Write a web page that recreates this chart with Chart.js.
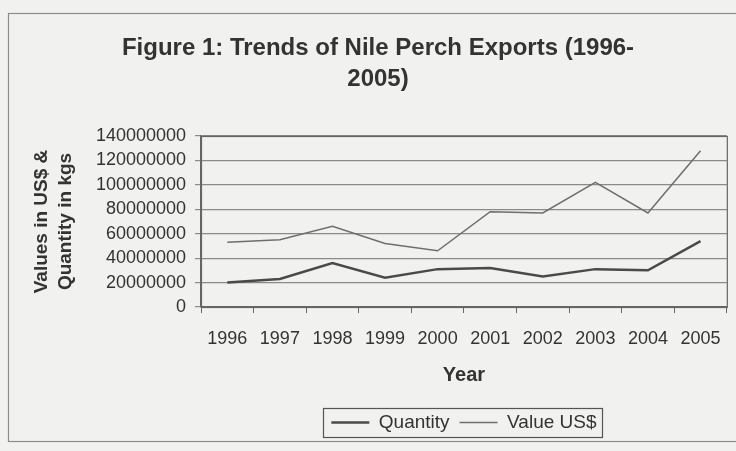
<!DOCTYPE html>
<html>
<head>
<meta charset="utf-8">
<title>Nile Perch Exports 1996-2005</title>
<script src="https://cdn.jsdelivr.net/npm/chart.js@4"></script>
<style>
  html, body { margin: 0; padding: 0; background: #f1f1ef; overflow: hidden; }
  #wrap { position: relative; width: 736px; height: 451px; }
</style>
</head>
<body>
<div id="wrap"><canvas id="exports" width="736" height="451"></canvas></div>
<script>
// ---- data ----
const years = ['1996', '1997', '1998', '1999', '2000', '2001', '2002', '2003', '2004', '2005'];
const quantityKg = [20000000, 23000000, 36000000, 24000000, 31000000, 32000000, 25000000, 31000000, 30000000, 54000000];
const valueUsd = [53000000, 55000000, 66000000, 52000000, 46000000, 78000000, 77000000, 102000000, 77000000, 128000000];

const INK = '#333333';
const FONT = '"Liberation Sans", Arial, Helvetica, sans-serif';

// frame round the whole chart, border of the plot area, box round the legend
const framePlugin = {
  id: 'frames',
  afterLayout(chart) {
    // centre the legend under the plot area
    const lg = chart.legend;
    lg.left = chart.chartArea.left;
    lg.right = chart.chartArea.right;
    lg.width = lg.right - lg.left;
  },
  beforeDraw(chart) {
    const c = chart.ctx;
    c.save();
    c.strokeStyle = '#8c8c8c';
    c.lineWidth = 1.2;
    c.strokeRect(8.5, 13.5, 760, 428);
    c.restore();
  },
  afterDraw(chart) {
    const c = chart.ctx;
    const a = chart.chartArea;
    c.save();
    c.strokeStyle = '#666';
    c.lineWidth = 1.2;
    c.strokeRect(a.left + 0.5, a.top + 0.5, a.right - a.left, a.bottom - a.top);
    const boxes = chart.legend.legendHitBoxes;
    if (boxes && boxes.length) {
      const l = Math.min(...boxes.map(b => b.left)) - 8;
      const r = Math.max(...boxes.map(b => b.left + b.width)) + 6;
      const t = boxes[0].top - 5;
      const h = boxes[0].height + 10;
      c.strokeStyle = '#555';
      c.strokeRect(Math.round(l) + 0.5, Math.round(t) + 0.5, Math.round(r - l), Math.round(h));
    }
    c.restore();
  }
};

new Chart(document.getElementById('exports'), {
  type: 'line',
  data: {
    labels: years,
    datasets: [
      {
        label: 'Quantity',
        data: quantityKg,
        borderColor: '#4a4a4a',
        borderWidth: 2.5,
        pointRadius: 0,
        tension: 0,
      },
      {
        label: 'Value US$',
        data: valueUsd,
        borderColor: '#6e6e6e',
        borderWidth: 1.5,
        pointRadius: 0,
        tension: 0,
      },
    ],
  },
  options: {
    responsive: false,
    animation: false,
    devicePixelRatio: 1,
    layout: { padding: { left: 29, right: 9, top: 0, bottom: 9 } },
    plugins: {
      title: {
        display: true,
        text: ['Figure 1: Trends of Nile Perch Exports (1996-', '2005)'],
        color: INK,
        font: { family: FONT, size: 24, weight: 'bold', lineHeight: 1.3 },
        padding: { top: 33, bottom: 40.6 },
      },
      legend: {
        position: 'bottom',
        labels: {
          color: INK,
          font: { family: FONT, size: 19 },
          usePointStyle: true,
          pointStyle: 'line',
          pointStyleWidth: 38,
          padding: 10,
        },
      },
      tooltip: { enabled: false },
    },
    scales: {
      x: {
        offset: true,
        afterFit(s) { s.height = 96; },
        grid: {
          offset: true,
          drawOnChartArea: false,
          tickLength: 6,
          color: '#666',
        },
        border: { color: '#666', width: 1.2 },
        ticks: {
          color: INK,
          font: { family: FONT, size: 18 },
          padding: 15,
          maxRotation: 0,
        },
        title: {
          display: true,
          text: 'Year',
          color: INK,
          font: { family: FONT, size: 20, weight: 'bold', lineHeight: 1.2 },
          padding: { top: 0, bottom: 16 },
        },
      },
      y: {
        min: 0,
        max: 140000000,
        afterFit(s) { s.width = 172; },
        grid: {
          color: '#8a8a8a',
          lineWidth: 1.2,
          tickLength: 6,
        },
        border: { color: '#666', width: 1.2 },
        ticks: {
          stepSize: 20000000,
          autoSkip: false,
          color: INK,
          font: { family: FONT, size: 18 },
          padding: 9,
          callback: v => String(v),
        },
        title: {
          display: true,
          text: ['Values in US$ &', 'Quantity in kgs'],
          color: INK,
          font: { family: FONT, size: 19, weight: 'bold', lineHeight: 1.3 },
          padding: { top: 0, bottom: 0 },
        },
      },
    },
  },
  plugins: [framePlugin],
});
</script>
</body>
</html>
